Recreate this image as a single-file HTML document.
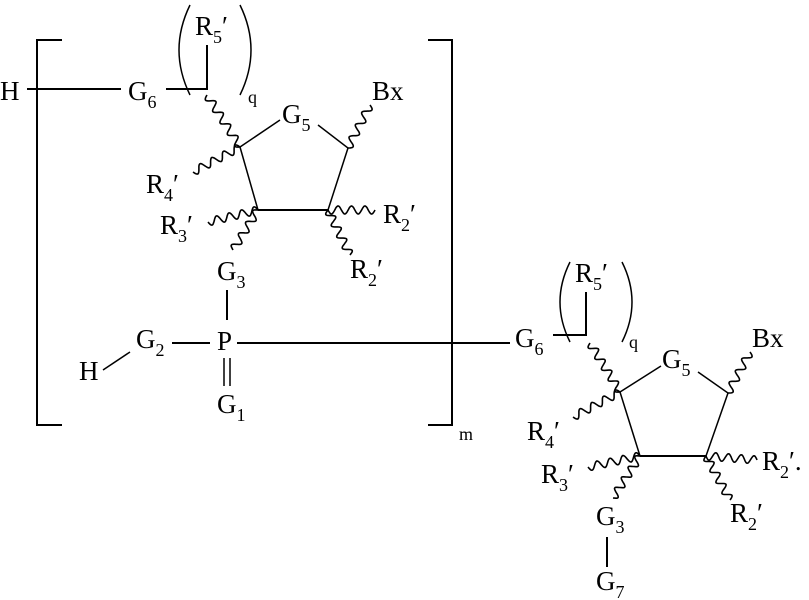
<!DOCTYPE html>
<html><head><meta charset="utf-8"><style>
html,body{margin:0;padding:0;background:#fff;}
svg{display:block;}
text{font-family:"Liberation Serif",serif;fill:#000;}
.t{font-size:27px;}
.s{font-size:18px;}
</style></head><body>
<svg id="s" width="809" height="600" viewBox="0 0 809 600" xmlns="http://www.w3.org/2000/svg">
<g stroke="#000" stroke-width="2" fill="none">
<path d="M62,40 H37 V425 H62"/>
<path d="M428,40 H452 V425 H428"/>
<path d="M27,89 H121"/>
<path d="M166,89 H207 V45"/>
<path d="M190,5 Q168,50 190,95" stroke-width="1.5"/>
<path d="M240,5 Q262,50 240,95" stroke-width="1.5"/>
<path d="M240,147 L280,120 M318,125 L348,148 L328,210 L258,210 L240,147" stroke-width="1.5"/>
<path d="M258,210 H328"/>
<path d="M227,290 V320"/>
<path d="M224,358 V386 M230,358 V386" stroke-width="1.5"/>
<path d="M103,370 L130,352" stroke-width="1.5"/>
<path d="M172,343 H210"/>
<path d="M237,343 H510"/>
<path d="M553,335 H586 V292"/>
<path d="M570,262 Q550,302 570,342" stroke-width="1.5"/>
<path d="M622,262 Q642,302 622,342" stroke-width="1.5"/>
<path d="M620,392 L661,366 M698,372 L728,393 L706,456 L640,456 L620,392" stroke-width="1.5"/>
<path d="M640,456 H706"/>
<path d="M607,537 V567"/>
</g>
<g id="w" stroke="#000" stroke-width="1.6" fill="none"></g>
<g class="t">
<text x="0" y="100">H</text>
<text x="128" y="100">G<tspan class="s" dy="8">6</tspan></text>
<text x="195" y="35">R<tspan class="s" dy="8">5</tspan><tspan dy="-8">′</tspan></text>
<text x="248" y="103" class="s">q</text>
<text x="282" y="123">G<tspan class="s" dy="8">5</tspan></text>
<text x="372" y="100">Bx</text>
<text x="146" y="193">R<tspan class="s" dy="8">4</tspan><tspan dy="-8">′</tspan></text>
<text x="160" y="234">R<tspan class="s" dy="8">3</tspan><tspan dy="-8">′</tspan></text>
<text x="383" y="223">R<tspan class="s" dy="8">2</tspan><tspan dy="-8">′</tspan></text>
<text x="350" y="278">R<tspan class="s" dy="8">2</tspan><tspan dy="-8">′</tspan></text>
<text x="217" y="280">G<tspan class="s" dy="8">3</tspan></text>
<text x="217" y="350">P</text>
<text x="136" y="348">G<tspan class="s" dy="8">2</tspan></text>
<text x="79" y="380">H</text>
<text x="217" y="413">G<tspan class="s" dy="8">1</tspan></text>
<text x="459" y="440" class="s">m</text>
<text x="515" y="347">G<tspan class="s" dy="8">6</tspan></text>
<text x="575" y="282">R<tspan class="s" dy="8">5</tspan><tspan dy="-8">′</tspan></text>
<text x="629" y="348" class="s">q</text>
<text x="662" y="368">G<tspan class="s" dy="8">5</tspan></text>
<text x="752" y="347">Bx</text>
<text x="527" y="440">R<tspan class="s" dy="8">4</tspan><tspan dy="-8">′</tspan></text>
<text x="541" y="483">R<tspan class="s" dy="8">3</tspan><tspan dy="-8">′</tspan></text>
<text x="762" y="470">R<tspan class="s" dy="8">2</tspan><tspan dy="-8">′.</tspan></text>
<text x="730" y="522">R<tspan class="s" dy="8">2</tspan><tspan dy="-8">′</tspan></text>
<text x="596" y="525">G<tspan class="s" dy="8">3</tspan></text>
<text x="596" y="590">G<tspan class="s" dy="8">7</tspan></text>
</g>
</svg>
<script>
function wave(x1,y1,x2,y2){
  var dx=x2-x1,dy=y2-y1,L=Math.sqrt(dx*dx+dy*dy),ux=dx/L,uy=dy/L,nx=-uy,ny=ux;
  var n=Math.max(3,Math.round(L/6.5)),amp=4,d="M"+x1+","+y1;
  for(var i=1;i<=80;i++){var t=i/80,a=Math.sin(t*n*Math.PI)*amp;
    d+=" L"+(x1+dx*t+nx*a).toFixed(1)+","+(y1+dy*t+ny*a).toFixed(1);}
  var p=document.createElementNS("http://www.w3.org/2000/svg","path");
  p.setAttribute("d",d);document.getElementById("w").appendChild(p);
}
var W=[[207,95,240,147],[348,148,370,105],[240,147,193,172],[258,210,208,222],[258,210,233,250],[328,210,375,210],[328,210,350,255],
[590,343,620,392],[728,393,750,352],[620,392,573,417],[640,456,588,467],[640,456,613,498],[706,456,757,460],[706,456,730,500]];
W.forEach(function(a){wave(a[0],a[1],a[2],a[3]);});
</script>
</body></html>
